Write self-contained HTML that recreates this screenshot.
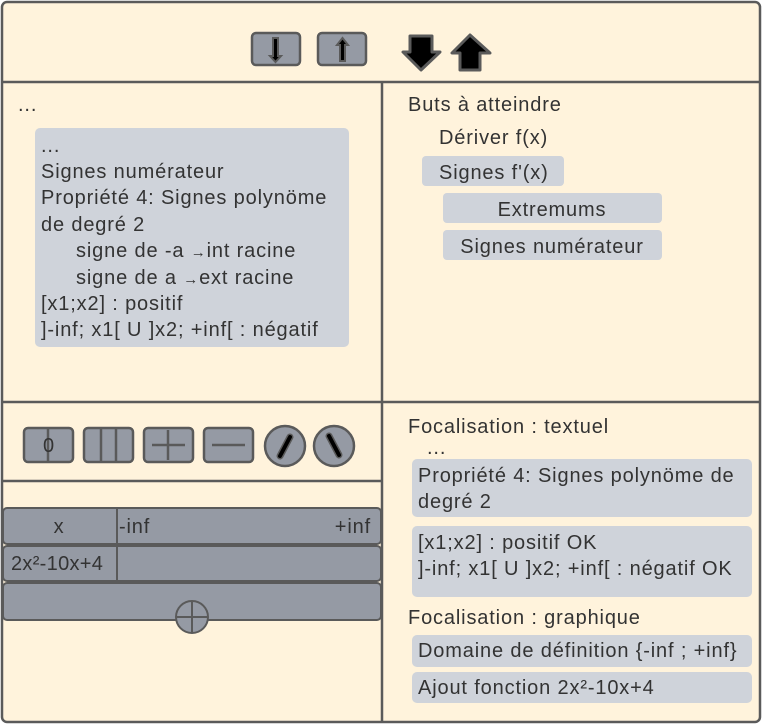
<!DOCTYPE html>
<html><head><meta charset="utf-8"><style>
html,body{margin:0;padding:0;background:#fff;}
svg{display:block}
text{font-family:"Liberation Sans",sans-serif;fill:#333;font-size:20px;letter-spacing:0.85px}
</style></head><body>
<svg width="762" height="726" viewBox="0 0 762 726" xmlns="http://www.w3.org/2000/svg">
<rect x="2" y="2" width="758" height="720" rx="5" fill="#fff3dc" stroke="#5a5a5a" stroke-width="2.5"/>
<g stroke="#5a5a5a" stroke-width="2.5">
<line x1="2" y1="82" x2="760" y2="82"/>
<line x1="2" y1="402" x2="760" y2="402"/>
<line x1="382" y1="82" x2="382" y2="722"/>
<line x1="2" y1="481" x2="382" y2="481"/>
</g>
<g stroke="#5a5a5a" stroke-width="2.5" fill="#959aa4">
<rect x="252" y="33" width="48" height="32" rx="4"/>
<rect x="318" y="33" width="48" height="32" rx="4"/>
</g>
<g stroke="#5a5a5a" stroke-width="2" fill="#000">
<path d="M273 38 h5 v18 h3 l-5.5 6 l-5.5 -6 h3 z"/>
<path d="M340 61 h5 v-16 h3 l-5.5 -7 l-5.5 7 h3 z"/>
</g>
<g stroke="#5a5a5a" stroke-width="3" fill="#000" stroke-linejoin="round">
<path d="M410 36 h22 v16 h8 l-19 18 l-18 -18 h7 z"/>
<path d="M460 70 h20 v-17 h10 l-20 -18 l-18 18 h8 z"/>
</g>
<text x="18" y="111">...</text>
<rect x="35" y="128" width="314" height="219" rx="5" fill="#cfd3da"/>
<text x="41" y="152">...</text>
<text x="41" y="178">Signes numérateur</text>
<text x="41" y="204">Propriété 4: Signes polynöme</text>
<text x="41" y="231">de degré 2</text>
<text x="76" y="257">signe de -a <tspan font-size="15">→</tspan>int racine</text>
<text x="76" y="284">signe de a  <tspan font-size="15">→</tspan>ext racine</text>
<text x="41" y="310">[x1;x2] : positif</text>
<text x="41" y="336">]-inf; x1[ U ]x2; +inf[ : négatif</text>
<text x="408" y="111">Buts à atteindre</text>
<text x="439" y="144">Dériver f(x)</text>
<rect x="422" y="156" width="142" height="30" rx="4" fill="#cfd3da"/>
<text x="439" y="179">Signes f'(x)</text>
<rect x="443" y="193" width="219" height="30" rx="4" fill="#cfd3da"/>
<text x="552" y="216" text-anchor="middle">Extremums</text>
<rect x="443" y="230" width="219" height="30" rx="4" fill="#cfd3da"/>
<text x="552" y="253" text-anchor="middle">Signes numérateur</text>
<g stroke="#5a5a5a" stroke-width="2.5" fill="#959aa4">
<rect x="24" y="428" width="49" height="34" rx="4"/>
<rect x="84" y="428" width="49" height="34" rx="4"/>
<rect x="144" y="428" width="49" height="34" rx="4"/>
<rect x="204" y="428" width="49" height="34" rx="4"/>
<circle cx="285" cy="446" r="20"/>
<circle cx="334" cy="446" r="20"/>
<line x1="48" y1="428" x2="48" y2="462"/>
<line x1="101" y1="428" x2="101" y2="462"/>
<line x1="116" y1="428" x2="116" y2="462"/>
<line x1="152" y1="445" x2="185" y2="445"/>
<line x1="168" y1="430" x2="168" y2="460"/>
<line x1="212" y1="445" x2="245" y2="445"/>
</g>
<text x="43" y="452" font-size="16" style="letter-spacing:0">0</text>
<g stroke="#5a5a5a" stroke-width="7" stroke-linecap="round"><line x1="280" y1="456" x2="290" y2="437"/><line x1="329" y1="436" x2="339" y2="455"/></g>
<g stroke="#000" stroke-width="4" stroke-linecap="round"><line x1="280" y1="456" x2="290" y2="437"/><line x1="329" y1="436" x2="339" y2="455"/></g>
<g stroke="#5a5a5a" stroke-width="2" fill="#959aa4">
<rect x="3" y="508" width="378" height="36" rx="4"/>
<rect x="3" y="546" width="378" height="35" rx="4"/>
<rect x="3" y="583" width="378" height="37" rx="4"/>
<line x1="117" y1="508" x2="117" y2="581"/>
<circle cx="192" cy="617" r="16"/>
<line x1="176" y1="617" x2="208" y2="617"/>
<line x1="192" y1="601" x2="192" y2="633"/>
</g>
<text x="59" y="533" text-anchor="middle">x</text>
<text x="119" y="533">-inf</text>
<text x="371" y="533" text-anchor="end">+inf</text>
<text x="11" y="570" style="letter-spacing:0.3px">2x²-10x+4</text>
<text x="408" y="433">Focalisation : textuel</text>
<text x="427" y="454">...</text>
<rect x="412" y="459" width="340" height="58" rx="5" fill="#cfd3da"/>
<text x="418" y="482">Propriété 4: Signes polynöme de</text>
<text x="418" y="508">degré 2</text>
<rect x="412" y="526" width="340" height="71" rx="5" fill="#cfd3da"/>
<text x="418" y="549">[x1;x2] : positif OK</text>
<text x="418" y="575">]-inf; x1[ U ]x2; +inf[ : négatif OK</text>
<text x="408" y="624">Focalisation : graphique</text>
<rect x="412" y="635" width="340" height="32" rx="5" fill="#cfd3da"/>
<text x="418" y="657">Domaine de définition {-inf ; +inf}</text>
<rect x="412" y="672" width="340" height="31" rx="5" fill="#cfd3da"/>
<text x="418" y="694">Ajout fonction 2x²-10x+4</text>
</svg>
</body></html>
